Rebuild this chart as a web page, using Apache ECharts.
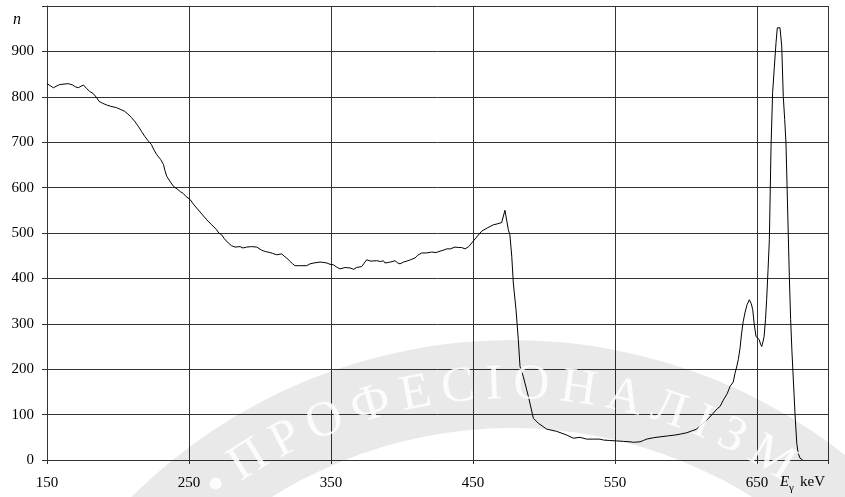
<!DOCTYPE html>
<html>
<head>
<meta charset="utf-8">
<script src="https://cdn.jsdelivr.net/npm/echarts@6/dist/echarts.min.js"></script>
<style>html,body{margin:0;padding:0;background:#fff}#c{width:845px;height:497px}</style>
</head>
<body>
<div id="c"></div>
<script>
// Energy (keV) and counts n
const energy = [150,152,154.5,157,159,162,165,168,170,172,173,175.6,178,180,182.6,185,186.6,189,192,195,199,202,204.7,207,209.6,212,214.3,216.5,218.8,221,223.5,225,227.2,230,232,233,234.3,237,239,242,244,246,248,250.7,253,255.4,259,262.5,266,269.5,271,273,275,277.7,280,282.4,286,288,290.6,294,297.7,299,301.2,304,307,309,311.8,313,315.3,317,318.8,321,323,324.6,328,332.9,335.2,338,342.3,345,347,349.3,351.6,354,356.3,360,363.4,366,368,371.6,373,375.1,378,382.2,385,386.8,388,390.3,393,395,397,398.6,401,403.3,406,409.2,411,413.9,417,420.9,424,426.8,429,431.5,434,437.3,440,442,444.4,447,449.1,452,456.1,460,464.3,467,470.2,472.5,474.9,476,477.3,478.4,480.3,481.9,483.1,485.4,489,492.5,496,501.9,509,516,520.6,525.4,530,534.7,539.4,541.8,546,551.2,556,560.6,563,567.6,570,572.3,577,581.7,587,592.3,596,600.5,604,607.5,610,612.2,616,619.2,622,624,626.3,629,631,633.3,634.5,635.7,636.8,638,639.2,640.3,641.5,643,644.6,646,647,648,649.3,650.5,651.6,652.5,653.3,654.2,655,656,656.8,657.8,658.7,659.3,659.9,661,662.2,663.4,664.3,665.2,666.2,667.4,668.5,669.5,670.4,671.2,672,672.8,673.7,674.6,675.6,676.8,678,679,680.3,682.2];
const counts = [829,825,820,824,827,828,829,826,822,820,818,826,818,812,807,798,790,786,782,779,776,772,768,762,754,745,735,724,713,704,695,685,673,662,651,638,625,612,603,596,591,587,580,574,564,555,542,529,518,507,500,496,487,478,472,469,470,467,469,470,469,466,462,459,457,455,452,450,454,449,445,438,432,428,428,428,432,434,436,435,434,431,430,425,421,424,423,420,424,426,432,441,438,439,437,439,434,435,437,439,434,432,436,438,441,445,451,456,456,458,457,460,462,465,465,469,468,468,465,470,478,489,504,511,518,520,523,550,507,496,448,390,331,265,206,184,140,92,81,68,63,55,48,50,46,46,46,44,43,42,41,40,39,40,43,46,49,51,53,55,57,60,64,68,76,81,92,103,113,118,132,146,162,172,191,205,221,245,280,305,324,342,353,344,331,300,272,268,265,255,250,260,272,310,353,420,485,590,691,809,865,919,952,954,952,912,801,750,699,600,500,400,309,240,176,100,37,15,4,0];
const xLabelValues = [150,250,350,450,550,650];
const yTicks = [0,100,200,300,400,500,600,700,800,900];
const watermarkText = 'ПРОФЕСІОНАЛІЗМ';

const data = energy.map((e,i)=>[e,counts[i]]);
const font = 'Liberation Serif';
const gridColor = '#333333';

// watermark (faint emblem behind the lower part of the chart)
const wm = [];
const cx = 512, cy = 880, rText = 495;
wm.push({type:'ring', shape:{cx:cx, cy:cy, r:540, r0:452}, style:{fill:'rgba(0,0,0,0.085)'}, z:100, silent:true});
const wmFont = '50px "Liberation Serif"';
const ctx = document.createElement('canvas').getContext('2d');
ctx.font = wmFont;
const letters = watermarkText.split('');
const spacing = 11;
const widths = letters.map(ch=>ctx.measureText(ch).width);
const total = widths.reduce((a,b)=>a+b,0) + spacing*(letters.length-1);
let s = 0;
letters.forEach((ch,i)=>{
  const mid = s + widths[i]/2;
  s += widths[i] + spacing;
  const rad = -Math.PI/2 + (mid - total/2)/rText;
  wm.push({type:'text', x: cx + rText*Math.cos(rad), y: cy + rText*Math.sin(rad), rotation: -(rad + Math.PI/2),
    style:{text:ch, font:wmFont, fill:'rgba(255,255,255,0.85)', align:'center', verticalAlign:'middle'}, z:101, silent:true});
});
{
  const rad = -Math.PI/2 + (-total/2 - 22)/rText;
  wm.push({type:'circle', shape:{cx: cx + rText*Math.cos(rad), cy: cy + rText*Math.sin(rad), r:6}, style:{fill:'rgba(255,255,255,0.85)'}, z:101, silent:true});
}

const chart = echarts.init(document.getElementById('c'), null, {renderer:'canvas'});
chart.setOption({
  animation:false,
  backgroundColor:'#fff',
  grid:{left:47, right:17, top:6, bottom:37},
  xAxis:[{
    type:'value', min:150, max:700, interval:50, position:'bottom',
    axisLine:{show:true, lineStyle:{color:gridColor, width:1}},
    axisTick:{show:false}, splitLine:{show:false},
    axisLabel:{color:'#000', fontFamily:font, fontSize:15, margin:16,
      formatter:v=> xLabelValues.indexOf(v)>=0 ? String(v) : ''}
  },{
    type:'value', min:0, max:550, interval:100, position:'bottom',
    axisLine:{show:false}, axisLabel:{show:false},
    axisTick:{show:true, length:4, lineStyle:{color:gridColor}},
    splitLine:{show:true, lineStyle:{color:gridColor, width:1}}
  }],
  yAxis:{
    type:'value', min:0, max:1000, interval:100,
    axisLine:{show:true, lineStyle:{color:gridColor, width:1}},
    axisTick:{show:true, length:5, lineStyle:{color:gridColor}},
    splitLine:{show:true, lineStyle:{color:gridColor, width:1}},
    axisLabel:{color:'#000', fontFamily:font, fontSize:15, margin:13,
      formatter:v=> yTicks.indexOf(v)>=0 ? String(v) : ''}
  },
  series:[{
    type:'line', data:data, xAxisIndex:0, showSymbol:false, symbol:'none',
    lineStyle:{color:'#000', width:1}, smooth:false
  }],
  graphic:[
    {type:'text', x:17, y:20, z:200, style:{text:'n', font:'italic 16px "Liberation Serif"', fill:'#000', align:'center', verticalAlign:'middle'}},
    {type:'text', x:780, y:482, z:200, style:{text:'E', font:'italic 15px "Liberation Serif"', fill:'#000', align:'left', verticalAlign:'middle'}},
    {type:'text', x:789, y:488, z:200, style:{text:'γ', font:'11px "Liberation Serif"', fill:'#000', align:'left', verticalAlign:'middle'}},
    {type:'text', x:800, y:482, z:200, style:{text:'keV', font:'15px "Liberation Serif"', fill:'#000', align:'left', verticalAlign:'middle'}}
  ].concat(wm)
});
</script>
</body>
</html>
